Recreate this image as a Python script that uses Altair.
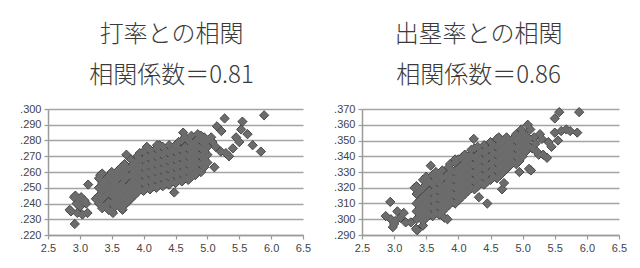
import altair as alt
import pandas as pd

# ---- titles ----
bat_title = ["打率との相関", "相関係数＝0.81"]
obp_title = ["出塁率との相関", "相関係数＝0.86"]

x_ticks = [2.5, 3.0, 3.5, 4.0, 4.5, 5.0, 5.5, 6.0, 6.5]
bat_y_ticks = [0.220, 0.230, 0.240, 0.250, 0.260, 0.270, 0.280, 0.290, 0.300]
obp_y_ticks = [0.290, 0.300, 0.310, 0.320, 0.330, 0.340, 0.350, 0.360, 0.370]

# ---- 打率 (batting average) vs x : edge / outlying points ----
bat_edge = [
    (5.89, .296), (5.27, .294), (5.55, .292), (5.15, .289), (5.22, .286), (5.53, .287),
    (5.63, .284), (5.45, .282), (5.50, .279), (5.71, .277), (5.84, .273), (5.08, .279),
    (5.13, .276), (5.21, .273), (5.34, .270), (5.40, .275), (5.29, .272), (5.11, .263),
    (5.06, .282), (4.62, .285), (4.48, .247), (4.81, .258), (4.71, .256),
    (2.84, .236), (2.92, .227), (2.93, .245), (2.98, .243), (3.02, .244), (2.95, .240),
    (3.00, .238), (2.96, .234), (3.04, .233), (3.06, .241), (3.10, .240), (3.13, .252),
    (3.12, .234), (3.32, .258), (3.25, .243), (3.52, .234), (3.67, .236), (3.73, .271),
    (3.94, .272), (4.05, .276), (4.21, .277), (2.91, .244), (3.07, .242), (2.86, .235),
]
# dense core, listed column by column (x, [y values])
bat_core = [
    (3.30, [.240, .245, .250, .256]),
    (3.35, [.237, .243, .248, .253, .259]),
    (3.40, [.239, .245, .250, .255]),
    (3.45, [.236, .241, .247, .252, .257]),
    (3.50, [.235, .240, .245, .250, .255, .260]),
    (3.55, [.238, .243, .248, .253, .258]),
    (3.60, [.240, .245, .250, .256, .261]),
    (3.65, [.237, .242, .247, .252, .258, .263]),
    (3.70, [.239, .244, .249, .255, .260, .265]),
    (3.75, [.241, .246, .251, .257, .262]),
    (3.80, [.243, .248, .253, .258, .263, .268]),
    (3.85, [.245, .250, .255, .260, .265]),
    (3.90, [.247, .252, .257, .262, .267, .270]),
    (3.95, [.249, .254, .259, .264, .268]),
    (4.00, [.248, .253, .258, .263, .268, .273]),
    (4.05, [.250, .255, .260, .265, .270]),
    (4.10, [.249, .254, .259, .264, .269, .274]),
    (4.15, [.251, .256, .261, .266, .271]),
    (4.20, [.250, .255, .260, .265, .270, .275]),
    (4.25, [.252, .257, .262, .267, .272, .277]),
    (4.30, [.251, .256, .261, .266, .271, .276]),
    (4.35, [.253, .258, .263, .268, .273]),
    (4.40, [.252, .257, .262, .267, .272, .277]),
    (4.45, [.254, .259, .264, .269, .274]),
    (4.50, [.253, .258, .263, .268, .273, .277]),
    (4.55, [.255, .260, .265, .270, .275, .279]),
    (4.60, [.254, .259, .264, .269, .274, .280]),
    (4.65, [.256, .261, .266, .271, .276, .282]),
    (4.70, [.255, .260, .265, .270, .275, .280]),
    (4.75, [.257, .262, .267, .272, .277, .283]),
    (4.80, [.259, .264, .269, .274, .279]),
    (4.85, [.261, .266, .271, .276, .281, .284]),
    (4.90, [.260, .265, .270, .275, .280, .283]),
    (4.95, [.263, .268, .273, .278, .282]),
    (5.00, [.266, .271, .276, .280]),
]

# ---- 出塁率 (on-base percentage) vs x ----
obp_edge = [
    (5.88, .368), (5.57, .368), (5.50, .364), (5.60, .356), (5.68, .357), (5.74, .356),
    (5.85, .355), (5.55, .350), (5.50, .355), (5.45, .346), (5.40, .349), (5.27, .354),
    (5.30, .351), (5.32, .341), (5.38, .339), (5.25, .341), (5.10, .332), (4.95, .330),
    (5.08, .360), (4.98, .357), (4.87, .352), (4.63, .352), (4.24, .351), (4.68, .319),
    (4.71, .323), (4.45, .310), (4.32, .314), (3.57, .334), (3.87, .335), (3.95, .338),
    (4.16, .340), (2.94, .311), (2.87, .302), (2.95, .300), (3.00, .297), (3.05, .305),
    (3.10, .301), (3.15, .304), (3.18, .298), (2.98, .295), (3.02, .299), (3.26, .298),
    (3.36, .293), (3.34, .294), (3.45, .296), (3.32, .320), (3.78, .301), (3.83, .300),
    (5.15, .345), (5.20, .348), (5.18, .352), (5.12, .357), (5.22, .343), (5.13, .331),
]
obp_core = [
    (3.35, [.300, .305, .310, .316, .321]),
    (3.40, [.302, .307, .312, .318]),
    (3.45, [.299, .304, .309, .314, .320, .325]),
    (3.50, [.301, .306, .311, .316, .322, .327]),
    (3.55, [.303, .308, .313, .318, .324]),
    (3.60, [.302, .307, .312, .317, .322, .328]),
    (3.65, [.304, .309, .314, .319, .325, .330]),
    (3.70, [.303, .308, .313, .318, .323, .328]),
    (3.75, [.305, .310, .315, .320, .326, .331]),
    (3.80, [.307, .312, .317, .322, .327]),
    (3.85, [.309, .314, .319, .324, .329, .333]),
    (3.90, [.311, .316, .321, .326, .331]),
    (3.95, [.310, .315, .320, .325, .330, .336]),
    (4.00, [.312, .317, .322, .327, .332, .338]),
    (4.05, [.314, .319, .324, .329, .334, .339]),
    (4.10, [.316, .321, .326, .331, .336, .341]),
    (4.15, [.318, .323, .328, .333, .338]),
    (4.20, [.320, .325, .330, .335, .340, .344]),
    (4.25, [.319, .324, .329, .334, .339, .345]),
    (4.30, [.321, .326, .331, .336, .341, .346]),
    (4.35, [.323, .328, .333, .338, .343]),
    (4.40, [.322, .327, .332, .337, .342, .347]),
    (4.45, [.324, .329, .334, .339, .344]),
    (4.50, [.325, .330, .335, .340, .345, .349]),
    (4.55, [.327, .332, .337, .342, .347]),
    (4.60, [.326, .331, .336, .341, .346, .351]),
    (4.65, [.328, .333, .338, .343, .348]),
    (4.70, [.330, .335, .340, .345, .350]),
    (4.75, [.332, .337, .342, .347, .352]),
    (4.80, [.334, .339, .344, .349]),
    (4.85, [.336, .341, .346, .351]),
    (4.90, [.335, .340, .345, .350, .354]),
    (4.95, [.337, .342, .347, .352]),
    (5.00, [.340, .345, .350, .355]),
    (5.05, [.343, .348, .353]),
    (5.10, [.346, .351]),
]


def to_frame(edge, core):
    rows = [{"x": x, "y": y} for x, y in edge]
    for x, ys in core:
        rows.extend({"x": x, "y": y} for y in ys)
    return pd.DataFrame(rows)


LABEL_FONT = "Liberation Sans"
TITLE_FONT = "Noto Sans CJK JP"


def panel(df, title, yticks, width, dx):
    base = alt.Chart(df).encode(
        x=alt.X("x:Q", title=None,
                scale=alt.Scale(domain=[x_ticks[0], x_ticks[-1]], nice=False, zero=False),
                axis=alt.Axis(values=x_ticks, format=".1f", grid=False, labelFlush=False,
                              domainColor="#9a9a9a", domainWidth=1.5,
                              tickColor="#9a9a9a", tickSize=4, tickWidth=1.2,
                              labelFont=LABEL_FONT, labelFontSize=11, labelColor="#444",
                              labelPadding=3)),
        y=alt.Y("y:Q", title=None,
                scale=alt.Scale(domain=[yticks[0], yticks[-1]], nice=False, zero=False),
                axis=alt.Axis(values=yticks, labelExpr="substring(format(datum.value, '.3f'), 1)",
                              grid=True, gridColor="#a4a4a4", gridWidth=1.5, labelFlush=False,
                              domainColor="#9a9a9a", domainWidth=1.5,
                              tickColor="#9a9a9a", tickSize=4, tickWidth=1.2,
                              labelFont=LABEL_FONT, labelFontSize=11, labelColor="#444",
                              labelPadding=3)),
    )
    outline = base.mark_point(shape="diamond", filled=True, size=86, fill="#6c6c6c",
                              stroke="#262626", strokeWidth=0.8, opacity=1)
    inner = base.mark_point(shape="diamond", filled=True, size=70, fill="#6c6c6c",
                            strokeWidth=0, opacity=1)
    return alt.layer(outline, inner).properties(
        width=width, height=126,
        title=alt.TitleParams(text=title, font=TITLE_FONT, fontSize=24,
                              fontWeight=300, color="#3a3a3a", lineHeight=41,
                              anchor="middle", offset=15, dx=dx),
    )


left = panel(to_frame(bat_edge, bat_core), bat_title, bat_y_ticks, 255, -4)
right = panel(to_frame(obp_edge, obp_core), obp_title, obp_y_ticks, 257, -12)

chart = alt.hconcat(left, right, spacing=22).properties(
    padding={"left": 19, "top": 23, "right": 5, "bottom": 5},
    background="white",
).configure_view(stroke=None)

chart.save("out.html", embed_options={"renderer": "svg", "actions": False})
